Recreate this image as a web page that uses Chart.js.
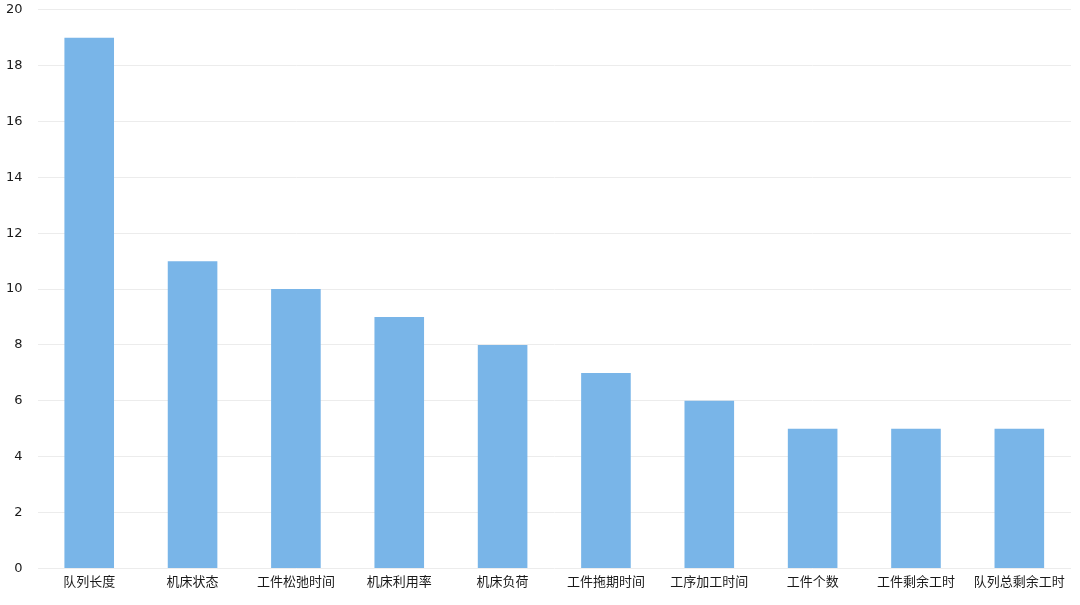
<!DOCTYPE html>
<html>
<head>
<meta charset="utf-8">
<script src="https://cdn.jsdelivr.net/npm/chart.js@4/dist/chart.umd.min.js"></script>
<style>
  html, body { margin: 0; padding: 0; background: #fff; overflow: hidden; }
  #wrap { position: relative; top: -13px; width: 1080px; height: 618px; }
</style>
</head>
<body>
<div id="wrap"><canvas id="bars"></canvas></div>
<script>
const CATEGORIES = ["队列长度", "机床状态", "工件松弛时间", "机床利用率", "机床负荷",
    "工件拖期时间", "工序加工时间", "工件个数", "工件剩余工时", "队列总剩余工时"];
const VALUES = [19, 11, 10, 9, 8, 7, 6, 5, 5, 5];
const Y_MIN = 0;
const Y_MAX = 20;
const Y_STEP = 2;

const FONT = "'DejaVu Sans', 'Noto Sans CJK SC', sans-serif";

window.onload = function () {
    var ctx = document.getElementById("bars").getContext("2d");
    new Chart(ctx, {
        type: "bar",
        data: {
            labels: CATEGORIES,
            datasets: [{
                data: VALUES,
                backgroundColor: "#79b5e8",
                borderWidth: 0,
                barPercentage: 0.8,
                categoryPercentage: 0.6,
            }],
        },
        options: {
            responsive: true,
            maintainAspectRatio: false,
            animation: false,
            layout: {
                padding: { left: -9, right: 9, top: 0, bottom: 17 }
            },
            plugins: {
                legend: { display: false },
                tooltip: { enabled: false },
            },
            scales: {
                x: {
                    grid: { display: false },
                    border: { display: false },
                    ticks: {
                        color: "#1a1a1a",
                        font: { family: FONT, size: 13 },
                        maxRotation: 0,
                        autoSkip: false,
                        padding: -2,
                    },
                },
                y: {
                    min: Y_MIN,
                    max: Y_MAX,
                    ticks: {
                        stepSize: Y_STEP,
                        color: "#1a1a1a",
                        font: { family: FONT, size: 13 },
                        padding: 15,
                    },
                    grid: {
                        color: "#ececec",
                        lineWidth: 1,
                        drawTicks: false,
                    },
                    border: { display: false },
                },
            },
        },
    });
};
</script>
</body>
</html>
